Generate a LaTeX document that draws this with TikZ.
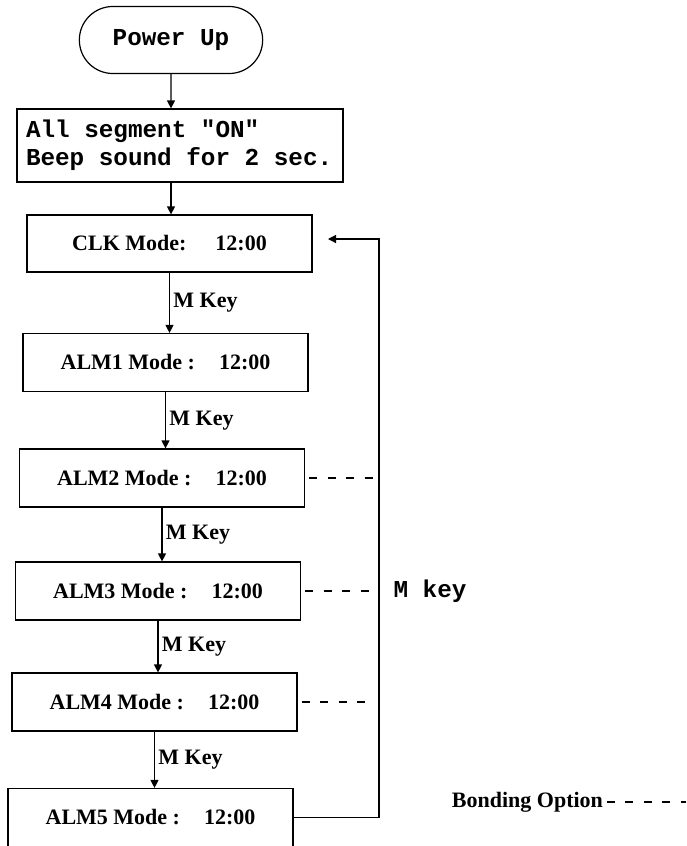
\documentclass[tikz,border=0pt]{standalone}
\usepackage{fontspec}
\setmainfont{Liberation Serif}
\newfontfamily\pixfont{Liberation Mono}
\usetikzlibrary{arrows.meta, shapes.misc}

\begin{document}
\begin{tikzpicture}[x=1pt, y=-1pt, line width=1.2pt,
  every node/.style={font=\fontsize{22}{26}\selectfont\bfseries}]
\tikzset{
  mode/.style={draw, minimum width=285pt, minimum height=58pt, inner sep=0},
  flow/.style={-{Triangle[length=8pt,width=8pt]}},
  bond/.style={dash pattern=on 8pt off 10.5pt},
  pix/.style={font=\fontsize{24.3}{28}\selectfont\pixfont\bfseries}}
\useasboundingbox (0,0) rectangle (686,846);
% power up and self test
\node[pix, draw, rounded rectangle, minimum width=190pt, minimum height=67pt] (pwr) at (171,40) {Power Up};
\node[pix, draw, align=left, text width=308pt, inner xsep=9pt, minimum height=73pt,
  execute at begin node={\spaceskip=.6em\relax}] (seg) at (180,145.5)
  {All segment "ON"\\Beep sound for 2 sec.};
% clock and alarm modes
\node[mode, minimum height=57pt] (clk) at (169.5,243.5) {CLK Mode:\hspace{29pt}12:00};
\foreach \i/\cx/\cy in {1/165.5/362.5, 2/162/478, 3/158/591, 4/154.5/702, 5/150.5/817.5}
  \node[mode] (alm\i) at (\cx,\cy) {ALM\i\ Mode :\hspace{24pt}12:00};
\draw[flow] (pwr) -- (pwr |- seg.north);
\draw[flow] (seg.south -| pwr) -- (clk.north -| pwr);
\foreach \a/\b in {clk/alm1, alm1/alm2, alm2/alm3, alm3/alm4, alm4/alm5}
  \draw[flow] (\a.south) -- (\a.south |- \b.north) node[midway, right] {M Key};
% bonding option dashes (four each) and return path
\foreach \i in {2,3,4}
  \foreach \k in {0,...,3}
    \draw ([xshift=4pt+\k*18.5pt]alm\i.east) -- ++(8,0);
\coordinate (rtn) at (379,239);
\coordinate (rtnin) at (328,239);
\draw[flow] (alm5.east) -| (rtn) -- (rtnin);
\node[pix] (mkey) at (430,591) {M key};
% legend
\node[anchor=west] (bondlbl) at (448,802) {Bonding Option};
\coordinate (bondend) at (686,802);
\draw[bond] (bondlbl.east) -- (bondend);
\end{tikzpicture}
\end{document}
